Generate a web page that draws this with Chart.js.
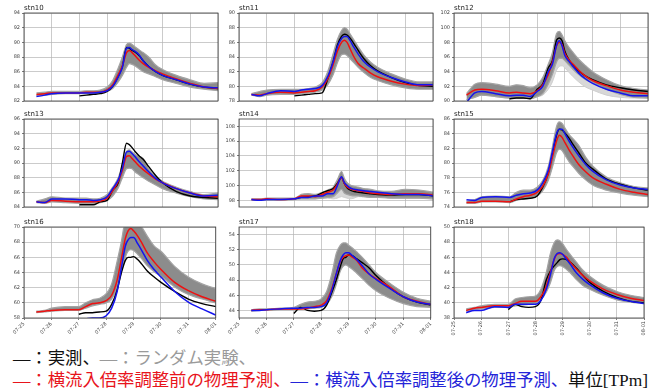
<!DOCTYPE html>
<html>
<head>
<meta charset="utf-8">
<script src="https://cdn.jsdelivr.net/npm/chart.js@4.4.1/dist/chart.umd.min.js"></script>
<style>
  html, body { margin: 0; padding: 0; background: #fff; }
  body { width: 653px; height: 389px; position: relative; overflow: hidden; }
  canvas.panel { position: absolute; }
  #legend { position: absolute; left: 13px; top: 347px; font-size: 17.4px; line-height: 22px;
            font-family: "Liberation Serif", "Noto Sans CJK JP", serif; white-space: nowrap; }
  #legend > div > span.row { display: inline-block; }
</style>
</head>
<body>
<div id="legend">
  <div><span class="row" id="legend1"><span style="color:#111">―：実測、</span><span style="color:#9a9a9a">―：ランダム実験、</span></span></div>
  <div><span class="row" id="legend2"><span style="color:#e8141c">―：横流入倍率調整前の物理予測、</span><span style="color:#2424d8">―：横流入倍率調整後の物理予測、</span><span style="color:#111">単位[TPm]</span></span></div>
</div>
<script>
// Time axis: days since 07-25 00:00
const DAY_LABELS = ['07-25', '07-26', '07-27', '07-28', '07-29', '07-30', '07-31', '08-01'];
const T = [0.45, 0.75, 1.0, 1.5, 2.0, 2.25, 2.5, 2.75, 3.0, 3.2, 3.4, 3.55, 3.7, 3.8, 3.9, 4.0, 4.15, 4.3, 4.5, 4.75, 5.0, 5.5, 6.0, 6.5, 7.0];

const STATIONS = ['stn10', 'stn11', 'stn12', 'stn13', 'stn14', 'stn15', 'stn16', 'stn17', 'stn18'];
const Y_MIN = [82, 78, 90, 84, 97.1, 74, 58, 43, 38];
const Y_MAX = [94, 90, 102, 96, 109, 86, 70, 55, 50];
const Y_TICKS = [
  [82, 84, 86, 88, 90, 92, 94],
  [78, 80, 82, 84, 86, 88, 90],
  [90, 92, 94, 96, 98, 100, 102],
  [84, 86, 88, 90, 92, 94, 96],
  [98, 100, 102, 104, 106, 108],
  [74, 76, 78, 80, 82, 84, 86],
  [58, 60, 62, 64, 66, 68, 70],
  [44, 46, 48, 50, 52, 54],
  [38, 40, 42, 44, 46, 48, 50]
];

const N = null;
// stn10
const obs10  = [N, N, N, N, 82.7, 82.8, 82.9, 83.0, 83.3, 84.0, 85.4, 86.7, 89.3, 89.2, 88.9, 88.7, 88.2, 87.5, 86.7, 86.0, 85.5, 84.9, 84.3, 83.9, 83.7];
const pre10  = [82.9, 83.0, 83.1, 83.1, 83.1, 83.2, 83.2, 83.2, 83.5, 84.2, 85.6, 86.8, 88.6, 88.9, 88.6, 88.2, 87.6, 87.1, 86.6, 86.1, 85.7, 85.0, 84.4, 83.9, 83.7];
const post10 = [82.6, 82.8, 83.0, 83.1, 83.1, 83.1, 83.1, 83.2, 83.4, 84.0, 85.3, 86.6, 89.2, 89.3, 89.0, 88.8, 88.3, 87.5, 86.7, 86.0, 85.5, 84.9, 84.3, 83.9, 83.8];
const ensHi10 = [83.1, 83.2, 83.3, 83.3, 83.3, 83.4, 83.4, 83.5, 83.9, 84.8, 86.5, 88.0, 89.7, 89.9, 89.7, 89.4, 89.0, 88.6, 88.0, 86.9, 86.3, 85.5, 84.9, 84.4, 84.5];
const ensLo10 = [82.7, 82.8, 82.9, 83.0, 83.0, 83.0, 83.0, 83.1, 83.3, 83.7, 84.6, 85.5, 86.6, 87.1, 87.0, 86.8, 86.4, 86.0, 85.7, 85.3, 84.9, 84.4, 83.9, 83.6, 83.4];
// stn11
const obs11  = [N, N, N, N, 78.7, 78.8, 78.9, 79.0, 79.1, 81.0, 83.4, 85.6, 86.8, 87.1, 87.0, 86.6, 85.8, 84.9, 83.8, 82.8, 82.1, 81.2, 80.5, 80.1, 80.0];
const pre11  = [78.9, 78.8, 79.0, 79.2, 79.1, 79.2, 79.3, 79.4, 79.9, 81.0, 83.0, 84.8, 86.0, 86.3, 86.0, 85.2, 84.0, 83.1, 82.5, 81.8, 81.3, 80.7, 80.3, 80.1, 80.2];
const post11 = [78.9, 78.7, 79.0, 79.4, 79.3, 79.5, 79.6, 79.7, 80.1, 81.3, 83.4, 85.4, 86.5, 86.8, 86.8, 86.3, 85.3, 84.4, 83.4, 82.6, 82.0, 81.2, 80.6, 80.2, 80.2];
const ensHi11 = [79.0, 79.3, 79.5, 79.6, 79.6, 79.6, 79.7, 79.9, 80.5, 82.0, 84.5, 86.4, 87.6, 88.0, 87.8, 87.2, 86.3, 85.4, 84.3, 83.3, 82.6, 81.7, 81.0, 80.6, 80.6];
const ensLo11 = [78.8, 78.6, 78.8, 78.9, 78.9, 79.0, 79.1, 79.2, 79.5, 80.2, 81.6, 83.2, 84.3, 84.4, 84.2, 83.8, 83.2, 82.6, 81.9, 81.2, 80.8, 80.2, 79.8, 79.6, 79.6];
// stn12
const obs12  = [N, N, N, N, 90.3, 90.4, 90.4, 90.3, 91.6, 92.3, 94.5, 95.5, 98.3, 98.6, 98.2, 96.8, 95.6, 94.8, 94.1, 93.4, 92.9, 92.2, 91.8, 91.5, 91.3];
const pre12  = [90.8, 91.5, 91.6, 91.4, 91.1, 91.2, 91.1, 91.0, 91.4, 92.2, 93.6, 95.3, 97.5, 98.0, 97.7, 96.5, 95.6, 95.0, 94.2, 93.4, 92.8, 92.1, 91.5, 91.2, 91.0];
const post12 = [89.8, 91.1, 91.3, 91.0, 90.7, 90.8, 90.8, 90.6, 91.3, 92.0, 94.0, 95.0, 97.6, 98.2, 97.5, 96.2, 95.4, 94.7, 93.8, 93.0, 92.4, 91.6, 91.1, 90.7, 90.7];
const ensHi12 = [91.0, 92.3, 92.5, 92.3, 92.0, 92.2, 92.1, 91.8, 92.2, 93.2, 95.0, 96.6, 99.2, 99.5, 99.0, 98.2, 97.3, 96.6, 95.7, 94.8, 94.0, 92.9, 92.1, 91.7, 91.5];
const ensLo12 = [90.2, 90.5, 90.8, 90.6, 90.4, 90.4, 90.4, 90.3, 90.6, 91.0, 92.3, 93.6, 95.3, 95.8, 95.8, 95.5, 94.9, 94.3, 93.6, 92.9, 92.5, 91.6, 90.9, 90.5, 90.4];
const ensLight12 = [90.2, 90.5, 90.8, 90.6, 90.4, 90.4, 90.4, 90.3, 90.6, 90.8, 91.6, 92.6, 94.2, 94.7, 94.8, 94.5, 93.9, 93.3, 92.6, 91.9, 91.5, 90.8, 90.5, 90.4, 90.4];
// stn13
const obs13  = [N, N, N, N, 84.3, 84.3, 84.3, 84.7, 84.9, 86.3, 87.3, 90.0, 92.7, 92.5, 92.1, 91.6, 91.0, 90.5, 89.5, 88.3, 87.3, 86.1, 85.5, 85.3, 85.2];
const pre13  = [84.7, 84.6, 84.9, 84.8, 84.7, 84.7, 84.7, 84.8, 85.2, 86.2, 87.5, 89.0, 90.9, 91.0, 90.6, 90.2, 89.6, 89.1, 88.5, 87.8, 87.3, 86.5, 85.9, 85.5, 85.4];
const post13 = [84.7, 84.6, 85.1, 85.1, 85.0, 85.0, 84.9, 85.0, 85.4, 86.5, 87.7, 89.3, 91.5, 91.6, 91.3, 90.9, 90.2, 89.6, 88.8, 87.9, 87.3, 86.5, 85.9, 85.5, 85.6];
const ensHi13 = [84.8, 85.1, 85.4, 85.2, 85.2, 85.2, 85.1, 85.2, 85.7, 86.7, 88.0, 89.8, 91.6, 91.8, 91.5, 91.2, 90.9, 90.6, 89.2, 88.2, 87.5, 86.7, 86.1, 85.7, 85.9];
const ensLo13 = [84.6, 84.5, 84.7, 84.6, 84.5, 84.5, 84.5, 84.6, 84.9, 85.5, 86.6, 88.0, 89.2, 89.3, 89.2, 88.8, 88.4, 88.0, 87.5, 87.0, 86.5, 85.9, 85.4, 85.1, 85.0];
// stn14
const obs14  = [N, N, N, N, 98.2, 98.4, 98.5, 98.6, 99.0, 99.3, 99.6, 100.3, 101.1, 100.3, 99.7, 99.4, 99.2, 99.1, 99.0, 98.9, 98.8, 98.7, 98.8, 98.8, 98.6];
const pre14  = [98.1, 98.1, 98.2, 98.1, 98.2, 98.6, 98.6, 98.5, 98.8, 99.1, 99.4, 100.2, 101.1, 100.3, 99.8, 99.6, 99.4, 99.3, 99.2, 99.0, 98.9, 98.8, 98.9, 98.9, 98.7];
const post14 = [98.1, 98.0, 98.1, 98.1, 98.2, 98.4, 98.4, 98.6, 98.6, 98.9, 98.9, 100.0, 101.2, 100.4, 100.0, 99.7, 99.5, 99.4, 99.3, 99.2, 99.1, 98.9, 98.8, 98.8, 98.6];
const ensHi14 = [98.2, 98.2, 98.3, 98.3, 98.3, 98.8, 98.9, 98.8, 99.1, 99.4, 99.8, 100.8, 101.9, 101.0, 100.4, 100.1, 99.9, 99.8, 99.6, 99.5, 99.3, 99.2, 99.5, 99.4, 99.1];
const ensLo14 = [98.0, 98.0, 98.0, 98.0, 98.1, 98.2, 98.2, 98.2, 98.3, 98.4, 98.5, 99.0, 99.5, 99.0, 98.8, 98.7, 98.6, 98.6, 98.5, 98.4, 98.4, 98.3, 98.3, 98.3, 98.2];
const ensLight14 = [98.0, 98.0, 98.0, 98.0, 98.1, 98.2, 98.2, 98.2, 98.3, 98.3, 98.2, 98.3, 98.5, 98.4, 98.3, 98.2, 98.3, 98.5, 98.5, 98.4, 98.4, 98.3, 98.3, 98.3, 98.2];
// stn15
const obs15  = [N, N, N, N, 74.7, 75.0, 75.1, 75.2, 75.5, 76.7, 78.6, 81.2, 83.8, 84.6, 84.5, 84.1, 83.4, 82.5, 81.4, 80.0, 79.2, 77.8, 77.1, 76.6, 76.3];
const pre15  = [74.6, 74.6, 74.8, 74.8, 74.7, 75.1, 75.4, 75.6, 76.0, 76.8, 78.5, 80.8, 83.0, 83.8, 83.5, 82.8, 81.8, 80.9, 79.8, 78.8, 78.0, 77.1, 76.4, 76.0, 75.7];
const post15 = [75.0, 74.9, 75.3, 75.4, 75.3, 75.6, 75.8, 75.9, 76.3, 77.3, 79.0, 81.5, 84.0, 84.6, 84.6, 84.0, 83.0, 82.1, 81.0, 79.8, 78.9, 77.7, 77.0, 76.6, 76.4];
const ensHi15 = [74.8, 75.0, 75.4, 75.5, 75.4, 76.0, 76.3, 76.3, 76.7, 77.6, 79.5, 82.2, 85.0, 85.6, 85.4, 84.8, 83.9, 83.3, 82.4, 80.8, 79.6, 78.1, 77.3, 76.8, 76.6];
const ensLo15 = [74.5, 74.5, 74.7, 74.7, 74.6, 74.9, 75.1, 75.2, 75.5, 76.2, 77.6, 79.4, 81.4, 81.9, 81.7, 81.1, 80.2, 79.5, 78.6, 77.7, 77.0, 76.3, 75.9, 75.6, 75.4];
// stn16
const obs16  = [N, N, N, N, 58.5, 58.7, 58.7, 58.8, 58.9, 59.8, 61.7, 63.9, 65.6, 66.0, 66.0, 66.1, 65.7, 65.1, 64.2, 63.4, 62.7, 61.5, 60.5, 59.9, 59.5];
const pre16  = [58.8, 58.9, 59.0, 59.1, 59.1, 59.5, 59.9, 60.0, 60.3, 61.0, 63.0, 65.7, 68.5, 69.5, 69.8, 69.5, 68.8, 67.9, 66.6, 65.4, 64.4, 62.7, 61.6, 60.8, 60.2];
const post16 = [57.4, 57.5, 57.6, 57.7, 57.8, 57.9, 58.0, 58.0, 58.3, 59.3, 61.5, 64.5, 67.5, 68.3, 68.6, 68.6, 67.8, 66.9, 65.6, 64.4, 63.4, 61.5, 60.1, 59.2, 58.4];
const ensHi16 = [58.9, 59.0, 59.3, 59.5, 59.5, 60.0, 60.4, 60.6, 61.2, 62.5, 65.5, 68.0, 71.0, 71.5, 71.5, 71.5, 70.8, 70.0, 68.8, 67.5, 66.8, 64.8, 63.4, 62.5, 61.9];
const ensLo16 = [58.7, 58.8, 58.9, 59.0, 59.0, 59.3, 59.6, 59.8, 60.0, 60.5, 62.0, 64.0, 66.0, 66.8, 67.0, 66.9, 66.4, 65.8, 64.9, 64.1, 63.5, 62.1, 61.1, 60.5, 60.0];
// stn17
const obs17  = [N, N, N, N, 43.6, 44.4, 44.0, 43.9, 44.0, 44.7, 46.5, 48.0, 49.8, 50.8, 51.0, 51.3, 51.2, 50.8, 50.3, 49.6, 48.6, 47.0, 45.8, 45.1, 44.7];
const pre17  = [44.0, 44.1, 44.1, 44.2, 44.2, 44.2, 44.3, 44.5, 44.7, 45.3, 47.0, 48.8, 50.5, 51.0, 51.2, 51.3, 51.0, 50.6, 49.6, 48.8, 48.2, 47.1, 45.8, 45.2, 44.8];
const post17 = [44.0, 44.0, 44.1, 44.2, 44.3, 44.3, 44.4, 44.4, 44.5, 45.0, 46.8, 48.8, 50.6, 51.3, 51.6, 51.6, 51.2, 50.7, 49.9, 48.8, 48.1, 46.9, 45.8, 45.1, 44.8];
const ensHi17 = [44.1, 44.2, 44.2, 44.3, 44.4, 44.8, 45.1, 45.2, 45.5, 46.5, 49.0, 51.5, 52.6, 52.9, 52.9, 52.6, 52.2, 51.7, 51.0, 50.0, 49.0, 47.6, 46.4, 45.6, 45.2];
const ensLo17 = [43.9, 44.0, 44.0, 44.1, 44.1, 44.2, 44.2, 44.3, 44.4, 44.8, 45.9, 47.4, 49.2, 49.8, 50.0, 49.8, 49.4, 48.9, 48.2, 47.3, 46.6, 45.6, 44.9, 44.5, 44.4];
// stn18
const obs18  = [N, N, N, N, 39.1, 39.8, 39.5, 39.4, 39.5, 40.3, 43.0, 44.2, 44.9, 45.3, 45.7, 45.8, 45.7, 45.3, 44.6, 43.6, 42.7, 41.5, 40.7, 40.2, 40.0];
const pre18  = [39.0, 39.3, 39.4, 39.6, 39.6, 39.9, 40.2, 40.2, 40.2, 40.8, 42.2, 44.0, 45.8, 46.4, 46.5, 46.4, 46.0, 45.3, 44.5, 43.6, 42.9, 41.8, 41.1, 40.6, 40.3];
const post18 = [38.7, 39.0, 39.0, 39.5, 39.4, 39.8, 39.8, 39.8, 39.8, 40.3, 41.8, 43.7, 45.9, 46.5, 46.6, 46.4, 45.7, 45.0, 44.0, 43.1, 42.4, 41.3, 40.6, 40.2, 39.9];
const ensHi18 = [39.2, 39.4, 39.6, 39.8, 39.8, 40.5, 40.7, 40.8, 40.9, 41.8, 44.0, 46.5, 48.0, 48.3, 48.2, 47.8, 47.0, 46.3, 45.4, 44.3, 43.5, 42.3, 41.5, 41.0, 40.7];
const ensLo18 = [38.9, 39.1, 39.2, 39.4, 39.4, 39.6, 39.7, 39.8, 39.9, 40.4, 41.4, 42.6, 44.3, 44.8, 44.9, 44.8, 44.4, 43.9, 43.1, 42.3, 41.8, 41.0, 40.4, 40.1, 39.9];

const OBS   = [obs10, obs11, obs12, obs13, obs14, obs15, obs16, obs17, obs18];
const PRE   = [pre10, pre11, pre12, pre13, pre14, pre15, pre16, pre17, pre18];
const POST  = [post10, post11, post12, post13, post14, post15, post16, post17, post18];
const ENS_HI = [ensHi10, ensHi11, ensHi12, ensHi13, ensHi14, ensHi15, ensHi16, ensHi17, ensHi18];
const ENS_LO = [ensLo10, ensLo11, ensLo12, ensLo13, ensLo14, ensLo15, ensLo16, ensLo17, ensLo18];
const ENS_LIGHT = [null, null, ensLight12, null, ensLight14, null, null, null, null];

// Panel grid geometry (plot areas)
const COL_LEFT = [24, 239, 454];
const ROW_TOP = [13, 119, 227];
const PLOT_W = 194, PLOT_H = 91;
const TITLE_PAD = 12, RIGHT_PAD = 3, AXIS_W = 24, XLABEL_H = 18;

// Legend caption: spread the longer line across the full figure width
(function fitLegend() {
  const target = 635;
  const l2 = document.getElementById('legend2');
  const l1 = document.getElementById('legend1');
  const w = l2.getBoundingClientRect().width;
  const n = l2.textContent.length;
  const ls = (target - w) / n;
  l1.style.letterSpacing = ls + 'px';
  l2.style.letterSpacing = ls + 'px';
})();

const pts = arr => T.map((t, i) => ({ x: t, y: arr[i] }));

// Frame around the plot area and the station name above it
const framePlugin = {
  id: 'frame',
  afterDraw(chart, args, opts) {
    const { ctx, chartArea: a } = chart;
    ctx.save();
    ctx.strokeStyle = '#3a3a3a';
    ctx.lineWidth = 0.8;
    ctx.strokeRect(a.left, a.top, a.right - a.left, a.bottom - a.top);
    ctx.fillStyle = '#222';
    ctx.font = '7px "DejaVu Sans"';
    ctx.textBaseline = 'alphabetic';
    ctx.fillText(opts.title, a.left, a.top - 3);
    ctx.restore();
  }
};

STATIONS.forEach((name, i) => {
  const col = i % 3, row = Math.floor(i / 3);
  const bottomRow = row === 2;
  const cv = document.createElement('canvas');
  cv.className = 'panel';
  const w = AXIS_W + PLOT_W + RIGHT_PAD;
  const h = TITLE_PAD + PLOT_H + (bottomRow ? XLABEL_H : 2);
  cv.width = w; cv.height = h;
  cv.style.width = w + 'px'; cv.style.height = h + 'px';
  cv.style.left = (COL_LEFT[col] - AXIS_W) + 'px';
  cv.style.top = (ROW_TOP[row] - TITLE_PAD) + 'px';
  document.body.appendChild(cv);

  const line = (data, color, order, width) => ({
    data: pts(data), borderColor: color, borderWidth: width, pointRadius: 0,
    fill: false, order, cubicInterpolationMode: 'monotone'
  });

  const datasets = [
    { data: pts(ENS_HI[i]), borderColor: '#a4a4a4', borderWidth: 1.2, pointRadius: 0,
      fill: false, order: 10, cubicInterpolationMode: 'monotone' },
    { data: pts(ENS_LO[i]), borderColor: '#a4a4a4', borderWidth: 1.2, pointRadius: 0,
      backgroundColor: '#8c8c8c', fill: '-1', order: 10, cubicInterpolationMode: 'monotone' },
    line(OBS[i], '#000000', 3, 1.4),
    line(PRE[i], '#ee1111', 2, 1.5),
    line(POST[i], '#1414ee', 1, 1.5)
  ];
  if (ENS_LIGHT[i]) {
    // lighter members of the ensemble, lying under the main band
    datasets.push({ data: pts(ENS_LIGHT[i]), borderColor: '#cfcfcf', borderWidth: 1, pointRadius: 0,
      backgroundColor: '#d8d8d8', fill: 1, order: 20, cubicInterpolationMode: 'monotone' });
  }

  const rot = col === 2 ? 90 : 45;
  new Chart(cv, {
    type: 'line',
    data: { datasets },
    plugins: [framePlugin],
    options: {
      responsive: false,
      animation: false,
      devicePixelRatio: 1,
      layout: { padding: { top: TITLE_PAD, right: RIGHT_PAD, left: 0, bottom: bottomRow ? 0 : 2 } },
      plugins: { legend: { display: false }, tooltip: { enabled: false }, frame: { title: name } },
      scales: {
        x: {
          type: 'linear', min: 0, max: 7,
          afterBuildTicks: s => { s.ticks = DAY_LABELS.map((_, k) => ({ value: k })); },
          afterFit: s => { s.height = bottomRow ? XLABEL_H : 0; },
          ticks: {
            display: bottomRow, autoSkip: false, minRotation: rot, maxRotation: rot, padding: 1,
            font: { size: 5, family: 'DejaVu Sans' }, color: '#444',
            callback: v => DAY_LABELS[v]
          },
          grid: { color: '#b4b4b4', lineWidth: 0.7, borderDash: [1, 1.5], drawTicks: bottomRow, tickLength: 2,
                  tickColor: '#444', tickBorderDash: [] },
          border: { display: false }
        },
        y: {
          type: 'linear', min: Y_MIN[i], max: Y_MAX[i],
          afterBuildTicks: s => { s.ticks = Y_TICKS[i].map(v => ({ value: v })); },
          afterFit: s => { s.width = AXIS_W; },
          ticks: { font: { size: 5, family: 'DejaVu Sans' }, color: '#444', padding: 2 },
          grid: { color: '#b4b4b4', lineWidth: 0.7, borderDash: [1, 1.5], drawTicks: true, tickLength: 2,
                  tickColor: '#444', tickBorderDash: [] },
          border: { display: false }
        }
      }
    }
  });
});
</script>
</body>
</html>
